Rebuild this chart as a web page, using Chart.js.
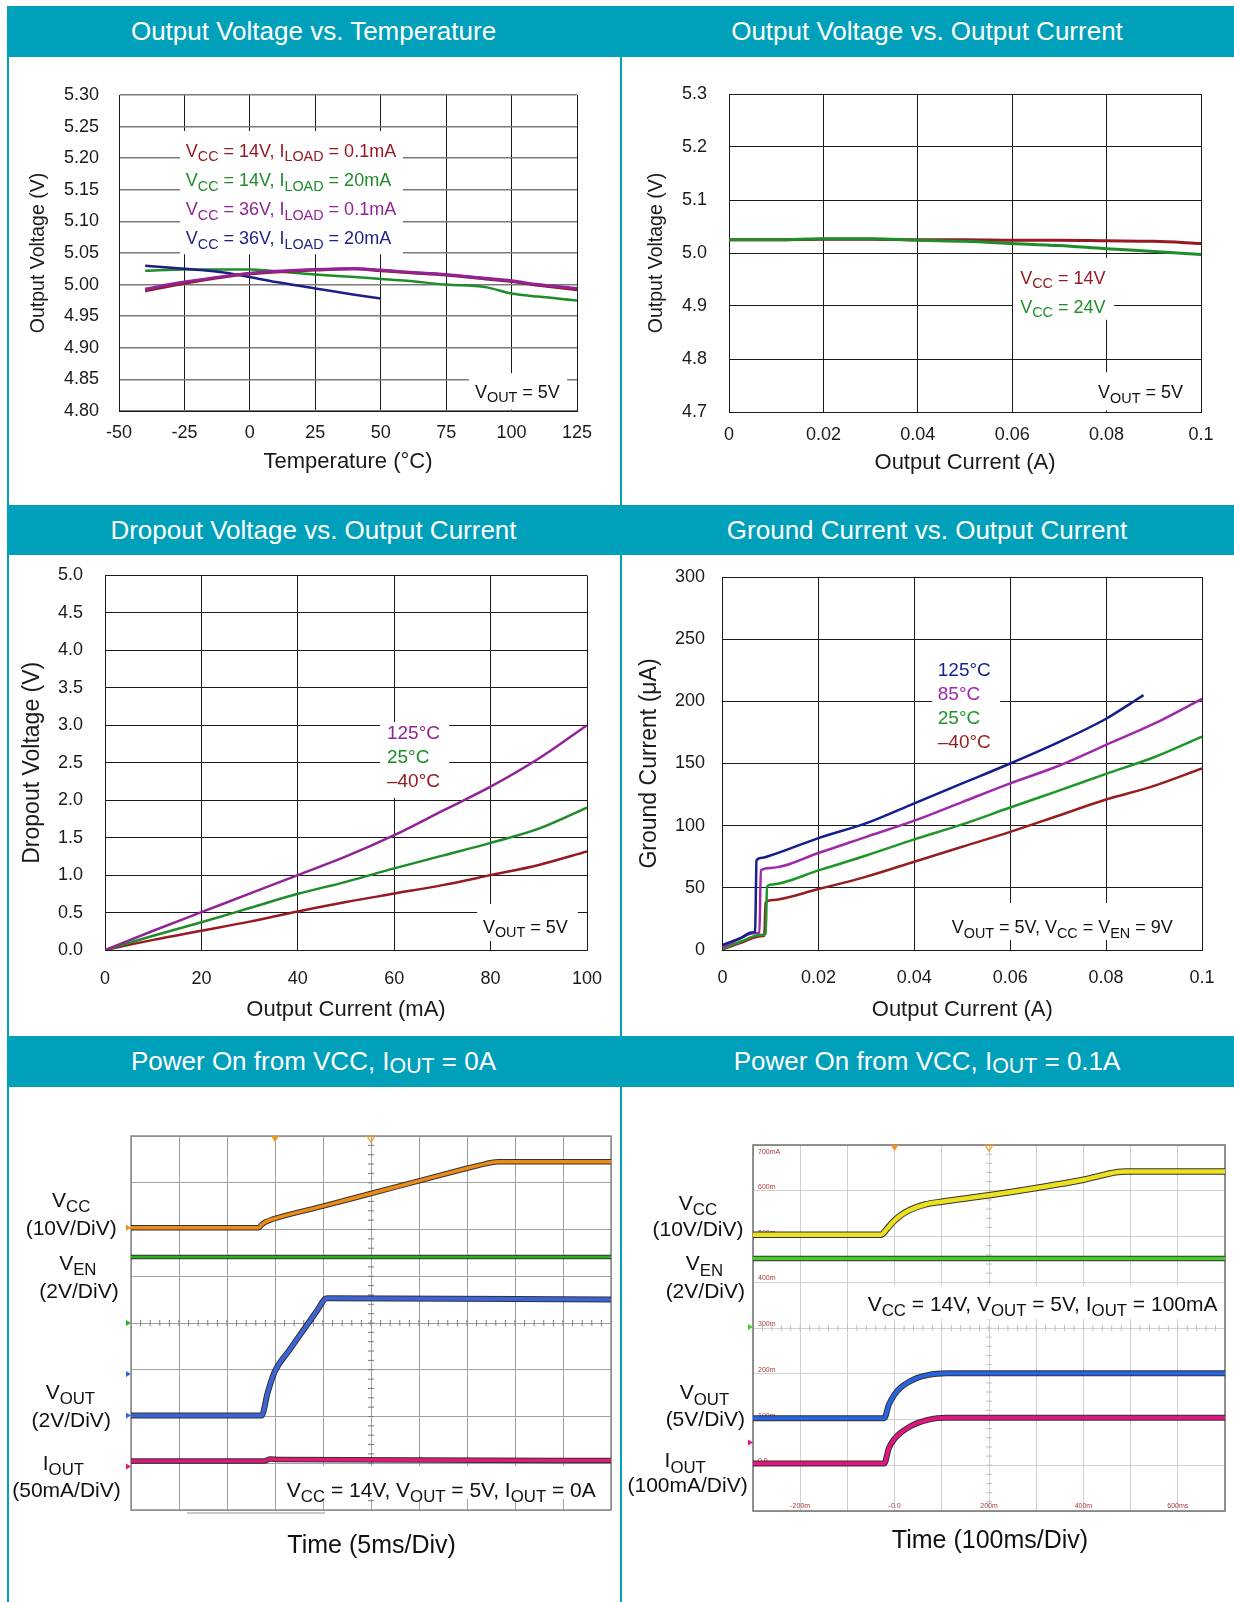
<!DOCTYPE html>
<html>
<head>
<meta charset="utf-8">
<script src="https://cdn.jsdelivr.net/npm/chart.js@4.4.1/dist/chart.umd.min.js"></script>
<style>
body { margin: 0; background: #fff; }
#page { position: relative; width: 1234px; height: 1602px; overflow: hidden; font-family: "Liberation Sans", Arial, sans-serif; }
.hdr { position: absolute; background: #00a0ba; color: #fff; font-size: 26px; text-align: center; }
.vl { position: absolute; background: #00a0ba; width: 2.3px; }
.s { font-size: 0.82em; position: relative; top: 0.12em; }
canvas { position: absolute; }
</style>
</head>
<body>
<div id="page">
  <div class="vl" style="left:7px;top:6px;height:1596px"></div>
  <div class="vl" style="left:619.5px;top:57px;height:1545px"></div>

  <div class="hdr" style="left:7px;top:6px;width:613px;height:51px;line-height:51px">Output Voltage vs. Temperature</div>
  <div class="hdr" style="left:620px;top:6px;width:614px;height:51px;line-height:51px">Output Voltage vs. Output Current</div>
  <div class="hdr" style="left:7px;top:505px;width:613px;height:50px;line-height:50px">Dropout Voltage vs. Output Current</div>
  <div class="hdr" style="left:620px;top:505px;width:614px;height:50px;line-height:50px">Ground Current vs. Output Current</div>
  <div class="hdr" style="left:7px;top:1036px;width:613px;height:51px;line-height:51px">Power On from VCC, I<span class="s">OUT</span> = 0A</div>
  <div class="hdr" style="left:620px;top:1036px;width:614px;height:51px;line-height:51px">Power On from VCC, I<span class="s">OUT</span> = 0.1A</div>

  <canvas id="c1" width="610" height="448" style="left:9px;top:57px"></canvas>
  <canvas id="c2" width="612" height="448" style="left:622px;top:57px"></canvas>
  <canvas id="c3" width="610" height="481" style="left:9px;top:555px"></canvas>
  <canvas id="c4" width="612" height="481" style="left:622px;top:555px"></canvas>
  <canvas id="c5" width="610" height="515" style="left:9px;top:1087px"></canvas>
  <canvas id="c6" width="612" height="515" style="left:622px;top:1087px"></canvas>
</div>

<script>
// --- Output Voltage vs. Temperature ---
const tempA = [-40, -25, -10, 0, 10, 25, 40, 50, 60, 75, 90, 100, 110, 125];
const vo14v01mA = [4.990, 5.002, 5.012, 5.017, 5.020, 5.023, 5.025, 5.022, 5.019, 5.015, 5.009, 5.005, 4.999, 4.992];
const vo14v20mA = [5.022, 5.024, 5.024, 5.024, 5.021, 5.016, 5.012, 5.009, 5.006, 5.000, 4.996, 4.986, 4.981, 4.975];
const vo36v01mA = [4.993, 5.004, 5.013, 5.018, 5.021, 5.024, 5.025, 5.023, 5.020, 5.016, 5.010, 5.006, 5.000, 4.994];
const tempB = [-40, -25, -10, 0, 10, 25, 40, 50];
const vo36v20mA = [5.030, 5.025, 5.019, 5.012, 5.004, 4.994, 4.984, 4.978];

// --- Output Voltage vs. Output Current ---
const ioutA = [0, 0.01, 0.02, 0.03, 0.04, 0.05, 0.06, 0.07, 0.08, 0.09, 0.1];
const voVcc14 = [5.025, 5.025, 5.026, 5.026, 5.025, 5.025, 5.024, 5.024, 5.023, 5.022, 5.018];
const voVcc24 = [5.025, 5.025, 5.027, 5.027, 5.024, 5.022, 5.018, 5.014, 5.008, 5.003, 4.997];

// --- Dropout Voltage vs. Output Current ---
const ioutMA = [0, 10, 20, 30, 40, 50, 60, 70, 80, 90, 100];
const vdo125 = [0, 0.257, 0.505, 0.753, 1.0, 1.249, 1.533, 1.857, 2.18, 2.556, 3.0];
const vdo25 = [0, 0.19, 0.37, 0.56, 0.75, 0.91, 1.09, 1.26, 1.43, 1.62, 1.9];
const vdoM40 = [0, 0.135, 0.257, 0.379, 0.514, 0.640, 0.753, 0.866, 1.0, 1.136, 1.317];

// --- Ground Current vs. Output Current ---
const gx125 = [0, 0.002, 0.004, 0.006, 0.0068, 0.0071, 0.008, 0.01, 0.02, 0.03, 0.04, 0.05, 0.06, 0.07, 0.08, 0.085, 0.0878];
const ig125 = [4, 7, 10, 14, 15, 72, 74, 76, 90, 102, 118, 134, 150, 167, 186, 198, 205];
const gx85 = [0, 0.003, 0.0065, 0.0077, 0.008, 0.01, 0.02, 0.03, 0.04, 0.05, 0.06, 0.07, 0.08, 0.09, 0.1];
const ig85 = [2, 8, 13.5, 14, 64, 66, 78, 91, 104, 119, 134, 148, 165, 182, 202];
const gx25 = [0, 0.004, 0.0078, 0.009, 0.0093, 0.01, 0.02, 0.03, 0.04, 0.05, 0.06, 0.07, 0.08, 0.09, 0.1];
const ig25 = [1, 7, 12, 13, 51, 52.5, 64, 76, 89, 101, 114.6, 128, 141.7, 155, 171.6];
const gxM40 = [0, 0.004, 0.008, 0.0087, 0.009, 0.01, 0.02, 0.03, 0.04, 0.05, 0.06, 0.07, 0.08, 0.09, 0.1];
const igM40 = [0.5, 6, 11, 11.5, 38, 40, 49, 59, 71, 83, 95, 108, 121, 132, 146];

// --- Power On, IOUT = 0A (scope, in divisions) ---
const vccT5 = [0, 2.66, 2.72, 2.8, 2.95, 4, 5, 6, 7, 7.4, 7.54, 7.65, 10];
const vccV5 = [6.04, 6.04, 6.10, 6.16, 6.22, 6.50, 6.77, 7.04, 7.31, 7.41, 7.44, 7.45, 7.45];
const venT5 = [0, 10];
const venV5 = [5.41, 5.41];
const voutT5 = [0, 2.72, 2.85, 2.99, 3.3, 3.6, 3.9, 4.05, 4.1, 10];
const voutV5 = [2.02, 2.02, 2.52, 2.95, 3.42, 3.86, 4.3, 4.52, 4.53, 4.50];
const ioutT5 = [0, 2.78, 2.9, 3.1, 10];
const ioutV5 = [1.05, 1.05, 1.09, 1.08, 1.06];
const names5 = ['V_{CC}', '(10V/DiV)', 'V_{EN}', '(2V/DiV)', 'V_{OUT}', '(2V/DiV)', 'I_{OUT}', '(50mA/DiV)'];

// --- Power On, IOUT = 0.1A (scope, in divisions) ---
const vccT6 = [0, 2.71, 2.85, 2.96, 3.1, 3.3, 3.65, 4, 5, 6, 7, 7.73, 7.9, 10];
const vccV6 = [6.04, 6.04, 6.18, 6.31, 6.44, 6.57, 6.70, 6.76, 6.90, 7.06, 7.24, 7.41, 7.42, 7.42];
const venT6 = [0, 10];
const venV6 = [5.52, 5.52];
const voutT6 = [0, 2.78, 2.88, 3.0, 3.13, 3.3, 3.48, 3.7, 3.9, 4.1, 10];
const voutV6 = [2.03, 2.03, 2.33, 2.55, 2.70, 2.82, 2.91, 2.97, 3.0, 3.01, 3.01];
const ioutT6 = [0, 2.78, 2.88, 3.0, 3.13, 3.3, 3.48, 3.7, 3.9, 4.1, 10];
const ioutV6 = [1.04, 1.04, 1.38, 1.58, 1.71, 1.83, 1.92, 1.99, 2.03, 2.04, 2.04];
const names6 = ['V_{CC}', '(10V/DiV)', 'V_{EN}', '(2V/DiV)', 'V_{OUT}', '(5V/DiV)', 'I_{OUT}', '(100mA/DiV)'];
const tinyY6 = ['0.0', '100m', '200m', '300m', '400m', '500m', '600m', '700mA'];
const tinyX6 = ['-200m', '-0.0', '200m', '400m', '600ms'];

const FONT = '"Liberation Sans", Arial, sans-serif';
Chart.defaults.font.family = FONT;
Chart.defaults.color = '#1a1a1a';

const RED = 'rgb(150,25,35)', GREEN = 'rgb(30,140,40)', PURPLE = 'rgb(145,35,150)', NAVY = 'rgb(30,30,135)';

// texto con subindices: "V_{CC} = 14V"
function parseRich(s) {
    const parts = [];
    const re = /_\{([^}]*)\}/g;
    let last = 0, m;
    while ((m = re.exec(s))) {
        if (m.index > last) parts.push([s.slice(last, m.index), false]);
        parts.push([m[1], true]);
        last = re.lastIndex;
    }
    if (last < s.length) parts.push([s.slice(last), false]);
    return parts;
}

function drawRich(ctx, s, x, y, size, color, align) {
    const parts = parseRich(s);
    const fontOf = sub => (sub ? size * 0.8 : size) + 'px ' + FONT;
    let w = 0;
    parts.forEach(p => { ctx.font = fontOf(p[1]); w += ctx.measureText(p[0]).width; });
    let cx = align === 'center' ? x - w / 2 : x;
    ctx.fillStyle = color;
    ctx.textAlign = 'left';
    ctx.textBaseline = 'alphabetic';
    parts.forEach(p => {
        ctx.font = fontOf(p[1]);
        ctx.fillText(p[0], cx, p[1] ? y + size * 0.25 : y);
        cx += ctx.measureText(p[0]).width;
    });
}

// etiquetas dentro del grafico, con caja blanca
const notesPlugin = {
    id: 'notes',
    beforeDatasetsDraw(chart, args, o) {
        const { ctx, chartArea: a, scales: { x, y } } = chart;
        ctx.save();
        ctx.fillStyle = '#fff';
        (o.boxes || []).forEach(b => {
            const x0 = Math.max(x.getPixelForValue(b[0]), a.left + 1.5);
            const x1 = Math.min(x.getPixelForValue(b[2]), a.right - 1.5);
            const y0 = Math.max(y.getPixelForValue(b[1]), a.top + 1.5);
            const y1 = Math.min(y.getPixelForValue(b[3]), a.bottom - 1.5);
            ctx.fillRect(x0, y0, x1 - x0, y1 - y0);
        });
        (o.texts || []).forEach(t => {
            drawRich(ctx, t.t, x.getPixelForValue(t.x), y.getPixelForValue(t.y), t.s || 18, t.c || '#111', 'left');
        });
        ctx.restore();
    }
};

// decoracion del osciloscopio
const scopePlugin = {
    id: 'scope',
    beforeDatasetsDraw(chart, args, o) {
        const { ctx, chartArea: a, scales: { x, y } } = chart;
        ctx.save();
        ctx.strokeStyle = o.minor;
        ctx.lineWidth = 1;
        const cx = x.getPixelForValue(5), cy = y.getPixelForValue(4);
        ctx.beginPath();
        for (let i = 1; i < 50; i++) { const px = x.getPixelForValue(i / 5); ctx.moveTo(px, cy - 3); ctx.lineTo(px, cy + 3); }
        for (let i = 1; i < 40; i++) { const py = y.getPixelForValue(i / 5); ctx.moveTo(cx - 3, py); ctx.lineTo(cx + 3, py); }
        ctx.stroke();
        ctx.strokeStyle = o.frame;
        ctx.lineWidth = 1.5;
        ctx.strokeRect(a.left, a.top, a.width, a.height);
        if (o.tinyY) {
            ctx.font = '7px ' + FONT;
            ctx.fillStyle = 'rgb(165,60,60)';
            ctx.textAlign = 'left';
            ctx.textBaseline = 'alphabetic';
            o.tinyY.forEach((t, i) => {
                const py = i < 7 ? y.getPixelForValue(i + 1) - 2 : a.top + 9;
                ctx.fillText(t, a.left + 5, py);
            });
            ctx.textAlign = 'center';
            o.tinyX.forEach((t, i) => ctx.fillText(t, x.getPixelForValue(1 + 2 * i), a.bottom - 3));
        }
        const b = o.cond.box;
        ctx.fillStyle = '#fff';
        ctx.fillRect(b[0], b[1], b[2] - b[0], b[3] - b[1]);
        drawRich(ctx, o.cond.t, o.cond.x, o.cond.y, 21, '#111', 'left');
        ctx.restore();
    },
    afterDraw(chart, args, o) {
        const { ctx, chartArea: a, scales: { x, y } } = chart;
        ctx.save();
        o.trig.forEach((t, i) => {
            const px = x.getPixelForValue(t);
            ctx.beginPath();
            ctx.moveTo(px - 4, a.top); ctx.lineTo(px + 4, a.top); ctx.lineTo(px, a.top + 6); ctx.closePath();
            if (i === 0) { ctx.fillStyle = o.trigColor; ctx.fill(); }
            else { ctx.strokeStyle = o.trigColor; ctx.lineWidth = 1.2; ctx.stroke(); }
        });
        (o.marks || []).forEach(m => {
            const py = y.getPixelForValue(m[0]);
            ctx.beginPath();
            ctx.moveTo(a.left - 5, py - 3); ctx.lineTo(a.left, py); ctx.lineTo(a.left - 5, py + 3); ctx.closePath();
            ctx.fillStyle = m[1];
            ctx.fill();
        });
        o.names.forEach((n, i) => drawRich(ctx, n, o.namePos[i][0], o.namePos[i][1], 21, '#111', 'center'));
        drawRich(ctx, o.time[0], o.time[1], o.time[2], 25, '#111', 'center');
        if (o.bar) {
            ctx.strokeStyle = '#c8c8c8';
            ctx.lineWidth = 2;
            ctx.beginPath(); ctx.moveTo(o.bar[0], o.bar[1]); ctx.lineTo(o.bar[2], o.bar[1]); ctx.stroke();
        }
        ctx.restore();
    }
};

function pts(xs, ys) { return xs.map((v, i) => ({ x: v, y: ys[i] })); }

// Chart.js dibuja primero el ultimo dataset: el primero de la lista queda encima
function lineDs(xs, ys, color, w) {
    return { data: pts(xs, ys), borderColor: color, borderWidth: w || 2.5, pointRadius: 0, fill: false,
        tension: 0.4, cubicInterpolationMode: 'monotone' };
}

// traza con borde oscuro (ruido del osciloscopio): color encima, negro debajo
function traceDs(xs, ys, color, w) {
    return [
        { data: pts(xs, ys), borderColor: color, borderWidth: w, pointRadius: 0, tension: 0.4, cubicInterpolationMode: 'monotone' },
        { data: pts(xs, ys), borderColor: 'rgba(15,15,15,0.85)', borderWidth: w + 2, pointRadius: 0, tension: 0.4, cubicInterpolationMode: 'monotone' }
    ];
}

// sin relleno extra por las etiquetas: el area del grafico queda donde la ponemos
function noPad(s) { s.paddingTop = 0; s.paddingBottom = 0; s.paddingLeft = 0; s.paddingRight = 0; }

function axes(o) {
    return {
        x: {
            type: 'linear', min: o.xmin, max: o.xmax,
            ticks: { stepSize: o.xstep, padding: o.xpad, font: { size: 18 }, callback: o.xfmt, maxRotation: 0, autoSkip: false },
            grid: { color: '#1a1a1a', lineWidth: 1, drawTicks: false },
            border: { color: '#1a1a1a', width: 1 },
            title: { display: true, text: o.xtitle, font: { size: 22 }, padding: { top: 0, bottom: o.xtpad } },
            afterFit: s => { s.height = o.xh; noPad(s); }
        },
        y: {
            type: 'linear', min: o.ymin, max: o.ymax,
            ticks: { stepSize: o.ystep, padding: o.ypad, font: { size: 18 }, callback: o.yfmt, autoSkip: false },
            grid: { color: o.gy || '#1a1a1a', lineWidth: o.gyw || 1, drawTicks: false },
            border: { color: '#1a1a1a', width: 1 },
            title: { display: true, text: o.ytitle, font: { size: o.ytsize }, padding: { top: o.ytpad, bottom: 0 } },
            afterFit: s => { s.width = o.yw; noPad(s); }
        }
    };
}

const base = { animation: false, responsive: false, events: [] };
const noLegend = { legend: { display: false }, tooltip: { enabled: false } };
const fmtA = v => (v === 0 ? '0' : String(+v.toFixed(2)));

// 1. Output Voltage vs. Temperature
new Chart(document.getElementById('c1'), {
    type: 'line',
    data: { datasets: [
        lineDs(tempA, vo36v01mA, PURPLE, 3),
        lineDs(tempA, vo14v01mA, RED, 3),
        lineDs(tempB, vo36v20mA, NAVY),
        lineDs(tempA, vo14v20mA, GREEN)
    ] },
    plugins: [notesPlugin],
    options: Object.assign({}, base, {
        layout: { padding: { left: 0, top: 38, right: 42, bottom: 24 } },
        plugins: Object.assign({}, noLegend, { notes: {
            boxes: [[-26.7, 5.243, 58.5, 5.048], [83.7, 4.860, 121.2, 4.80]],
            texts: [
                { t: 'V_{CC} = 14V, I_{LOAD} = 0.1mA', x: -24.5, y: 5.202, c: RED },
                { t: 'V_{CC} = 14V, I_{LOAD} = 20mA', x: -24.5, y: 5.156, c: GREEN },
                { t: 'V_{CC} = 36V, I_{LOAD} = 0.1mA', x: -24.5, y: 5.110, c: PURPLE },
                { t: 'V_{CC} = 36V, I_{LOAD} = 20mA', x: -24.5, y: 5.064, c: NAVY },
                { t: 'V_{OUT} = 5V', x: 86.0, y: 4.8206 }
            ]
        } }),
        scales: axes({ xmin: -50, xmax: 125, xstep: 25, xpad: 11.2, xfmt: v => String(v), xtitle: 'Temperature (°C)', xtpad: 6.3, xh: 70,
            ymin: 4.8, ymax: 5.3, ystep: 0.05, ypad: 20, yfmt: v => v.toFixed(2), ytitle: 'Output Voltage (V)', ytsize: 19.5, ytpad: 18.3, yw: 110,
            gy: '#7a7a7a', gyw: 1.5 })
    })
});

// 2. Output Voltage vs. Output Current
new Chart(document.getElementById('c2'), {
    type: 'line',
    data: { datasets: [
        lineDs(ioutA, voVcc24, GREEN, 3),
        lineDs(ioutA, voVcc14, RED, 3)
    ] },
    plugins: [notesPlugin],
    options: Object.assign({}, base, {
        layout: { padding: { left: 0, top: 37, right: 33, bottom: 23 } },
        plugins: Object.assign({}, noLegend, { notes: {
            boxes: [[0.0602, 4.991, 0.0816, 4.874], [0.0769, 4.775, 0.0992, 4.7]],
            texts: [
                { t: 'V_{CC} = 14V', x: 0.0617, y: 4.942, c: RED },
                { t: 'V_{CC} = 24V', x: 0.0617, y: 4.887, c: GREEN },
                { t: 'V_{OUT} = 5V', x: 0.0782, y: 4.726 }
            ]
        } }),
        scales: axes({ xmin: 0, xmax: 0.1, xstep: 0.02, xpad: 12.2, xfmt: fmtA, xtitle: 'Output Current (A)', xtpad: 5.8, xh: 70,
            ymin: 4.7, ymax: 5.3, ystep: 0.1, ypad: 22, yfmt: v => v.toFixed(1), ytitle: 'Output Voltage (V)', ytsize: 19.5, ytpad: 23.3, yw: 107 })
    })
});

// 3. Dropout Voltage vs. Output Current
new Chart(document.getElementById('c3'), {
    type: 'line',
    data: { datasets: [
        lineDs(ioutMA, vdo125, PURPLE),
        lineDs(ioutMA, vdo25, GREEN),
        lineDs(ioutMA, vdoM40, RED)
    ] },
    plugins: [notesPlugin],
    options: Object.assign({}, base, {
        layout: { padding: { left: 0, top: 20.5, right: 32, bottom: 6 } },
        plugins: Object.assign({}, noLegend, { notes: {
            boxes: [[57.05, 3.044, 71.4, 2.029], [77.2, 0.614, 98.1, 0.120]],
            texts: [
                { t: '125°C', x: 58.5, y: 2.817, c: PURPLE, s: 19 },
                { t: '25°C', x: 58.5, y: 2.502, c: GREEN, s: 19 },
                { t: '–40°C', x: 58.5, y: 2.182, c: RED, s: 19 },
                { t: 'V_{OUT} = 5V', x: 78.4, y: 0.232 }
            ]
        } }),
        scales: axes({ xmin: 0, xmax: 100, xstep: 20, xpad: 18.2, xfmt: v => String(v), xtitle: 'Output Current (mA)', xtpad: 6.8, xh: 80,
            ymin: 0, ymax: 5, ystep: 0.5, ypad: 22, yfmt: v => v.toFixed(1), ytitle: 'Dropout Voltage (V)', ytsize: 23, ytpad: 10.2, yw: 96 })
    })
});

// 4. Ground Current vs. Output Current
new Chart(document.getElementById('c4'), {
    type: 'line',
    data: { datasets: [
        lineDs(gx125, ig125, 'rgb(20,30,140)'),
        lineDs(gx85, ig85, 'rgb(160,40,170)'),
        lineDs(gx25, ig25, 'rgb(30,150,40)'),
        lineDs(gxM40, igM40, 'rgb(150,30,30)')
    ] },
    plugins: [notesPlugin],
    options: Object.assign({}, base, {
        layout: { padding: { left: 0, top: 22, right: 32, bottom: 6 } },
        plugins: Object.assign({}, noLegend, { notes: {
            boxes: [[0.0437, 237.3, 0.0579, 156.8], [0.0466, 37.8, 0.0977, 8.0]],
            texts: [
                { t: '125°C', x: 0.0449, y: 220.5, c: 'rgb(20,30,140)', s: 19 },
                { t: '85°C', x: 0.0449, y: 201, c: 'rgb(160,40,170)', s: 19 },
                { t: '25°C', x: 0.0449, y: 181.7, c: 'rgb(30,150,40)', s: 19 },
                { t: '–40°C', x: 0.0449, y: 162.1, c: 'rgb(150,30,30)', s: 19 },
                { t: 'V_{OUT} = 5V, V_{CC} = V_{EN} = 9V', x: 0.0478, y: 13.5 }
            ]
        } }),
        scales: axes({ xmin: 0, xmax: 0.1, xstep: 0.02, xpad: 17.2, xfmt: fmtA, xtitle: 'Output Current (A)', xtpad: 6.8, xh: 80,
            ymin: 0, ymax: 300, ystep: 50, ypad: 17.5, yfmt: v => String(v), ytitle: 'Ground Current (μA)', ytsize: 23, ytpad: 14.2, yw: 100.5 })
    })
});

function scopeScales(grid) {
    return {
        x: { type: 'linear', min: 0, max: 10, ticks: { display: false, stepSize: 1 }, grid: { color: grid, drawTicks: false }, border: { display: false }, afterFit: s => { s.height = 0; noPad(s); } },
        y: { type: 'linear', min: 0, max: 8, ticks: { display: false, stepSize: 1 }, grid: { color: grid, drawTicks: false }, border: { display: false }, afterFit: s => { s.width = 0; noPad(s); } }
    };
}

// 5. Power On from VCC, IOUT = 0A
const OR5 = 'rgb(235,140,25)', GR5 = 'rgb(40,180,30)', BL5 = 'rgb(60,100,215)', MG5 = 'rgb(225,25,120)';
new Chart(document.getElementById('c5'), {
    type: 'line',
    data: { datasets: [].concat(
        traceDs(vccT5, vccV5, OR5, 3.5),
        traceDs(voutT5, voutV5, BL5, 4),
        traceDs(ioutT5, ioutV5, MG5, 3.5),
        traceDs(venT5, venV5, GR5, 2.5)
    ) },
    plugins: [scopePlugin],
    options: Object.assign({}, base, {
        layout: { padding: { left: 122, top: 49, right: 8, bottom: 92 } },
        plugins: Object.assign({}, noLegend, { scope: {
            minor: '#7a7a7a', frame: '#8a8a8a',
            trig: [3, 5], trigColor: 'rgb(240,150,30)',
            marks: [[6.04, OR5], [4.0, GR5], [2.91, BL5], [2.02, BL5], [0.93, MG5]],
            names: names5,
            namePos: [[62.2, 120], [62.2, 148], [68.8, 182.6], [70, 211], [61.4, 311.7], [62.2, 340], [54.4, 382.6], [57.5, 409.8]],
            cond: { t: 'V_{CC} = 14V, V_{OUT} = 5V, I_{OUT} = 0A', x: 277.8, y: 409.8, box: [272, 379, 600, 412] },
            time: ['Time (5ms/Div)', 362.6, 466.4],
            bar: [178, 426, 316]
        } }),
        scales: scopeScales('#a0a0a0')
    })
});

// 6. Power On from VCC, IOUT = 0.1A
const YL6 = 'rgb(235,225,30)', GR6 = 'rgb(70,205,40)', BL6 = 'rgb(40,100,225)', MG6 = 'rgb(225,20,130)';
new Chart(document.getElementById('c6'), {
    type: 'line',
    data: { datasets: [].concat(
        traceDs(vccT6, vccV6, YL6, 4.5),
        traceDs(voutT6, voutV6, BL6, 4),
        traceDs(ioutT6, ioutV6, MG6, 4),
        traceDs(venT6, venV6, GR6, 3.5)
    ) },
    plugins: [scopePlugin],
    options: Object.assign({}, base, {
        layout: { padding: { left: 131, top: 58, right: 9, bottom: 91 } },
        plugins: Object.assign({}, noLegend, { scope: {
            minor: '#c0c0c0', frame: '#707070',
            trig: [3, 5], trigColor: 'rgb(240,150,30)',
            marks: [[4.02, GR6], [1.5, MG6]],
            names: names6,
            namePos: [[75.9, 123], [76, 149.4], [82.5, 183.4], [83.3, 210.5], [82.5, 312.4], [83.3, 338.8], [63.2, 380.4], [65.6, 405.3]],
            cond: { t: 'V_{CC} = 14V, V_{OUT} = 5V, I_{OUT} = 100mA', x: 245.7, y: 224, box: [240, 199, 602, 232] },
            time: ['Time (100ms/Div)', 368, 460.7],
            tinyY: tinyY6, tinyX: tinyX6
        } }),
        scales: scopeScales('#d0d0d0')
    })
});
</script>
</body>
</html>
